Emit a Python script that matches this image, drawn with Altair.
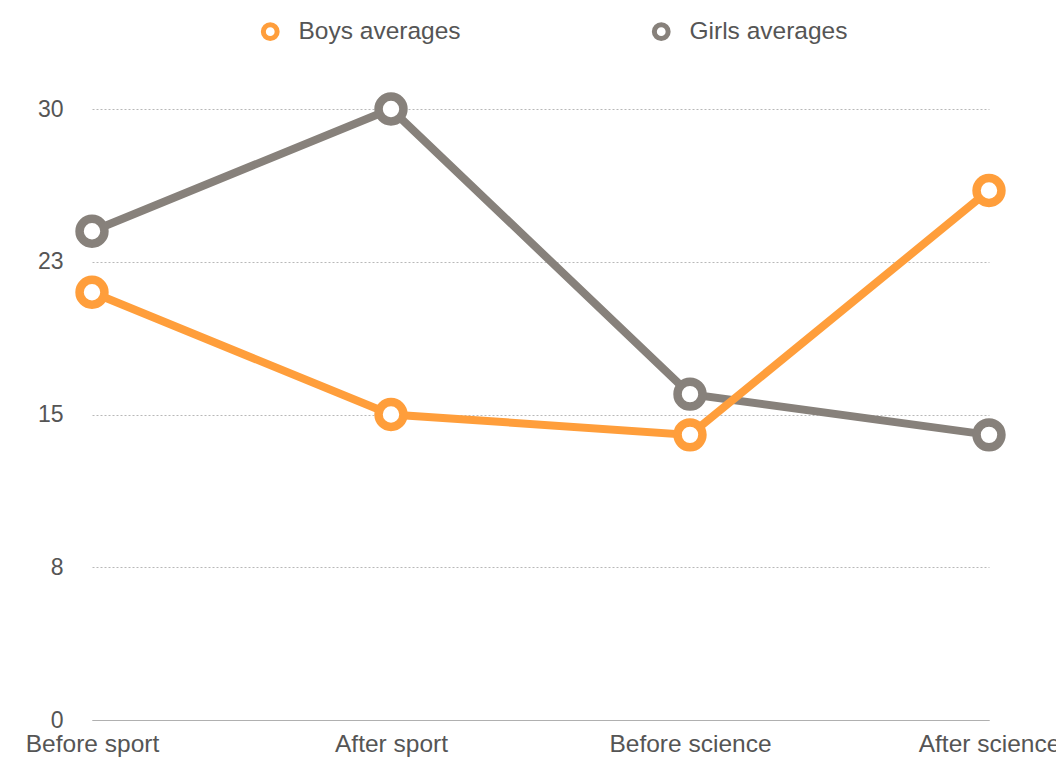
import altair as alt
import pandas as pd

categories = ["Before sport", "After sport", "Before science", "After science"]
boys = [21, 15, 14, 26]
girls = [24, 30, 16, 14]
series = ["Boys averages", "Girls averages"]
colors = ["#FF9E3B", "#87817B"]
y_ticks = [0, 7.5, 15, 22.5, 30]

rows = []
for s, vals in zip(series, [boys, girls]):
    for c, v in zip(categories, vals):
        rows.append({"stage": c, "value": v, "series": s})
df = pd.DataFrame(rows)

FONT = "Liberation Sans"

x = alt.X(
    "stage:N",
    sort=categories,
    scale=alt.Scale(type="point", padding=0),
    axis=alt.Axis(
        title=None, labelAngle=0, domain=True, domainColor="#b0b0b0", domainWidth=1,
        ticks=False, grid=False, labelFontSize=24.5, labelColor="#555555",
        labelPadding=12, labelFont=FONT, labelOverlap=False,
    ),
)
y = alt.Y(
    "value:Q",
    scale=alt.Scale(domain=[0, 30], nice=False, zero=True),
    axis=alt.Axis(
        title=None, values=y_ticks, format=".0f", domain=False, ticks=False,
        grid=True, gridDash=[2, 2], gridColor="#b8b8b8", gridWidth=1,
        labelFontSize=23, labelColor="#555555", labelPadding=29, labelFont=FONT,
    ),
)
stroke = alt.Stroke(
    "series:N",
    scale=alt.Scale(domain=series, range=colors),
    legend=alt.Legend(
        title=None, orient="none", direction="horizontal", legendX=166, legendY=-90,
        symbolType="circle", symbolSize=190, symbolStrokeWidth=5,
        symbolFillColor="white", labelFontSize=24.5, labelColor="#555555",
        labelFont=FONT, columnPadding=183, labelOffset=16, labelLimit=400,
    ),
)

def layer(name):
    base = alt.Chart(df).transform_filter(alt.datum.series == name)
    line = base.mark_line(strokeWidth=8).encode(x=x, y=y, stroke=stroke)
    pts = base.mark_point(filled=True, fill="white", strokeWidth=8.5, size=620, opacity=1).encode(
        x=x, y=y, stroke=stroke
    )
    return line + pts

chart = alt.layer(layer("Girls averages"), layer("Boys averages")).properties(
    width=897,
    height=611,
    autosize=alt.AutoSizeParams(type="none"),
    padding={"left": 92, "top": 109, "right": 67, "bottom": 37},
    background="white",
).configure_view(strokeWidth=0)

chart.save("out.html", embed_options={"renderer": "svg", "actions": False})
